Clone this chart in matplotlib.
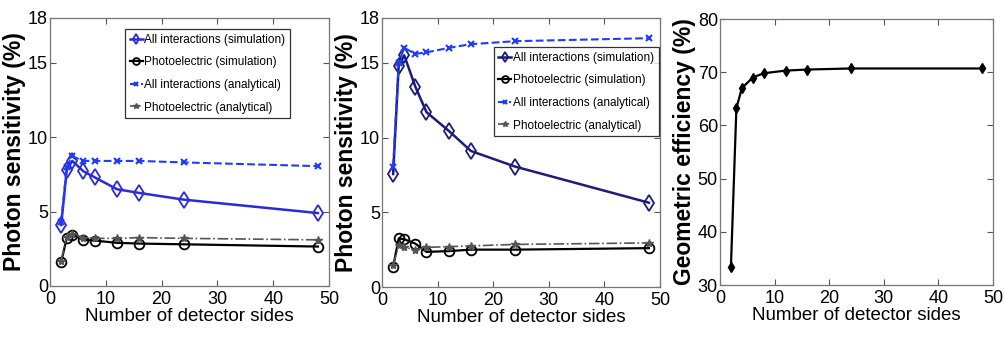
import matplotlib.pyplot as plt
import numpy as np

# detector sides
sides = [2, 3, 4, 6, 8, 12, 16, 24, 48]

# panel 1
p1_all_sim = [4.1, 7.8, 8.4, 7.7, 7.3, 6.5, 6.25, 5.8, 4.9]
p1_photo_sim = [1.6, 3.2, 3.45, 3.1, 3.05, 2.9, 2.85, 2.8, 2.65]
p1_all_ana = [4.3, 8.0, 8.7, 8.4, 8.4, 8.4, 8.4, 8.3, 8.05]
p1_photo_ana = [1.7, 3.3, 3.5, 3.25, 3.2, 3.2, 3.25, 3.2, 3.1]

# panel 2
p2_all_sim = [7.56, 14.8, 15.5, 13.4, 11.7, 10.45, 9.1, 8.05, 5.64]
p2_photo_sim = [1.35, 3.25, 3.2, 2.9, 2.35, 2.4, 2.5, 2.5, 2.6]
p2_all_ana = [8.05, 15.0, 16.0, 15.6, 15.7, 16.0, 16.25, 16.45, 16.65]
p2_photo_ana = [1.45, 2.8, 2.65, 2.5, 2.65, 2.7, 2.75, 2.85, 2.95]

# panel 3
geo_eff = [33.4, 63.2, 67.0, 69.0, 69.8, 70.3, 70.5, 70.7, 70.7]

labels = ["All interactions (simulation)", "Photoelectric (simulation)",
          "All interactions (analytical)", "Photoelectric (analytical)"]

plt.rcParams["font.family"] = ["Liberation Sans", "DejaVu Sans"]

fig = plt.figure(figsize=(10.05, 3.41), dpi=100)
W, H = 1005, 341


def add_ax(l, r, t, b):
    return fig.add_axes([l / W, 1 - b / H, (r - l) / W, (b - t) / H])

ax1 = add_ax(50, 329, 18, 286)
ax2 = add_ax(382, 660, 18, 287)
ax3 = add_ax(720, 993, 19, 285)


def style(ax, ylim, yticks, ylabel):
    ax.set_xlim(0, 50)
    ax.set_ylim(*ylim)
    ax.set_xticks([0, 10, 20, 30, 40, 50])
    ax.set_yticks(yticks)
    ax.tick_params(direction="in", top=True, right=True, labelsize=13,
                   length=4, color="#555555")
    ax.tick_params(axis="x", pad=3.5)
    ax.tick_params(axis="y", pad=1.5)
    for s in ax.spines.values():
        s.set_color("#777777")
        s.set_linewidth(0.9)
    ax.set_xlabel("Number of detector sides", fontsize=13.5, labelpad=0)
    ax.set_ylabel(ylabel, fontsize=16.5, fontweight="bold", labelpad=1.5)


def sens_panel(ax, all_sim, photo_sim, all_ana, photo_ana, sim_col, anchor, loc):
    ax.plot(sides, all_sim, "-", color=sim_col, lw=1.8, marker="d", ms=8,
            mfc="none", mew=1.3, label=labels[0])
    ax.plot(sides, photo_sim, "-", color="black", lw=1.6, marker="o", ms=7,
            mfc="none", mew=1.3, label=labels[1])
    ax.plot(sides, all_ana, "--", color="#1f3bff", lw=1.5, marker="x", ms=5,
            mew=1.5, label=labels[2])
    ax.plot(sides, photo_ana, "-.", color="#555555", lw=1.2, marker="*", ms=6,
            label=labels[3])
    style(ax, (0, 18), [0, 5, 10, 15, 18], "Photon sensitivity (%)")
    leg = ax.legend(loc=loc, bbox_to_anchor=anchor, fontsize=8.5,
                    frameon=True, fancybox=False, edgecolor="black",
                    borderpad=0.4, labelspacing=0.9, handlelength=1.1,
                    handletextpad=0.15, borderaxespad=0, markerscale=0.7)
    leg.get_frame().set_linewidth(0.9)


sens_panel(ax1, p1_all_sim, p1_photo_sim, p1_all_ana, p1_photo_ana,
           "#2a2ad8", ((125 - 50) / 279, (286 - 29) / 268), "upper left")
sens_panel(ax2, p2_all_sim, p2_photo_sim, p2_all_ana, p2_photo_ana,
           "#1c1c7a", ((659 - 382) / 278, (287 - 47) / 269), "upper right")

ax3.plot(sides, geo_eff, "-", color="black", lw=1.6, marker="d", ms=5,
         mfc="black")
style(ax3, (30, 80), [30, 40, 50, 60, 70, 80], "Geometric efficiency (%)")

fig.savefig("out.png", dpi=100)
